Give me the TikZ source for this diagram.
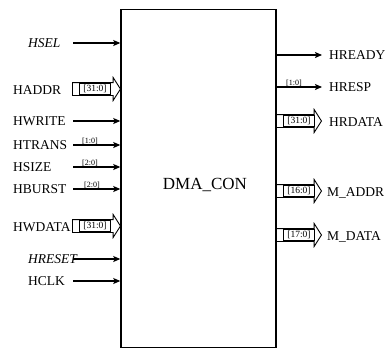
\documentclass[tikz,border=0pt]{standalone}
\usepackage{fontspec}
\setmainfont{Liberation Serif}
\usetikzlibrary{arrows.meta,positioning,shapes.arrows}
\tikzset{
  >={Stealth[length=7pt,width=6pt,inset=1.5pt]},
  % block
  blk/.style={draw,line width=1.5pt,minimum width=155pt,minimum height=338pt,
              inner sep=0pt},
  ttl/.style={font=\fontsize{17}{19}\selectfont,inner sep=0pt},
  % signals
  sig/.style={->,line width=1.1pt},
  pin/.style={font=\fontsize{13.5}{15}\selectfont,inner sep=0pt,anchor=west,
              text depth=0pt},
  wd/.style={font=\fontsize{8}{9}\selectfont,inner sep=0.6pt,anchor=south},
  % buses
  busarr/.style={single arrow,draw,line width=0.9pt,minimum height=48pt,
                 inner xsep=0pt,inner ysep=6pt,single arrow head extend=5pt,
                 single arrow tip angle=115,anchor=tip},
  buswd/.style={draw,line width=0.6pt,font=\fontsize{9.5}{10}\selectfont,
                inner sep=0.4pt,minimum width=31pt,minimum height=11pt},
}
\begin{document}
\begin{tikzpicture}[x=1pt,y=-1pt]
\useasboundingbox (0,0) rectangle (392,349);
  \node[blk] (dma) at (198.5,178.5) {};
  \node[ttl] (dmaname) at (205,185) {DMA\_CON};
  % inputs
  \node[pin] (l-hsel) at (28,43) {\textit{HSEL}};
  \coordinate (s-hsel) at (73,43);
  \draw[sig] (s-hsel) -- (s-hsel -| dma.west);
  \node[pin] (l-haddr) at (13,90) {HADDR};
  \coordinate (t-haddr) at (121,89);
  \node[busarr] (b-haddr) at (t-haddr) {};
  \node[buswd] (w-haddr) at (95,89) {[31:0]};
  \node[pin] (l-hwrite) at (13,121) {HWRITE};
  \coordinate (s-hwrite) at (73,121);
  \draw[sig] (s-hwrite) -- (s-hwrite -| dma.west);
  \node[pin] (l-htrans) at (13,145) {HTRANS};
  \coordinate (s-htrans) at (73,145);
  \draw[sig] (s-htrans) -- (s-htrans -| dma.west);
  \node[wd] (w-htrans) at (90,145) {[1:0]};
  \node[pin] (l-hsize) at (13,167) {HSIZE};
  \coordinate (s-hsize) at (73,167);
  \draw[sig] (s-hsize) -- (s-hsize -| dma.west);
  \node[wd] (w-hsize) at (90,167) {[2:0]};
  \node[pin] (l-hburst) at (13,189) {HBURST};
  \coordinate (s-hburst) at (73,189);
  \draw[sig] (s-hburst) -- (s-hburst -| dma.west);
  \node[wd] (w-hburst) at (92,189) {[2:0]};
  \node[pin] (l-hwdata) at (13,227) {HWDATA};
  \coordinate (t-hwdata) at (121,226);
  \node[busarr] (b-hwdata) at (t-hwdata) {};
  \node[buswd] (w-hwdata) at (95,226) {[31:0]};
  \node[pin] (l-hreset) at (28,259) {\textit{HRESET}};
  \coordinate (s-hreset) at (73,259);
  \draw[sig] (s-hreset) -- (s-hreset -| dma.west);
  \node[pin] (l-hclk) at (28,281) {HCLK};
  \coordinate (s-hclk) at (73,281);
  \draw[sig] (s-hclk) -- (s-hclk -| dma.west);
  % outputs
  \coordinate (t-hready) at (322,55);
  \draw[sig] (t-hready -| dma.east) -- (t-hready);
  \node[pin] (r-hready) at (329,55) {HREADY};
  \coordinate (t-hresp) at (322,87);
  \draw[sig] (t-hresp -| dma.east) -- (t-hresp);
  \node[wd] (w-hresp) at (294,87) {[1:0]};
  \node[pin] (r-hresp) at (329,87) {HRESP};
  \coordinate (t-hrdata) at (322,121);
  \node[busarr,minimum height=46pt] (b-hrdata) at (t-hrdata) {};
  \node[buswd] (w-hrdata) at (299,121) {[31:0]};
  \node[pin] (r-hrdata) at (329,122) {HRDATA};
  \coordinate (t-maddr) at (322,191);
  \node[busarr,minimum height=46pt] (b-maddr) at (t-maddr) {};
  \node[buswd] (w-maddr) at (299,191) {[16:0]};
  \node[pin] (r-maddr) at (327,192) {M\_ADDR};
  \coordinate (t-mdata) at (322,235);
  \node[busarr,minimum height=46pt] (b-mdata) at (t-mdata) {};
  \node[buswd] (w-mdata) at (299,235) {[17:0]};
  \node[pin] (r-mdata) at (327,236) {M\_DATA};
\end{tikzpicture}
\end{document}
